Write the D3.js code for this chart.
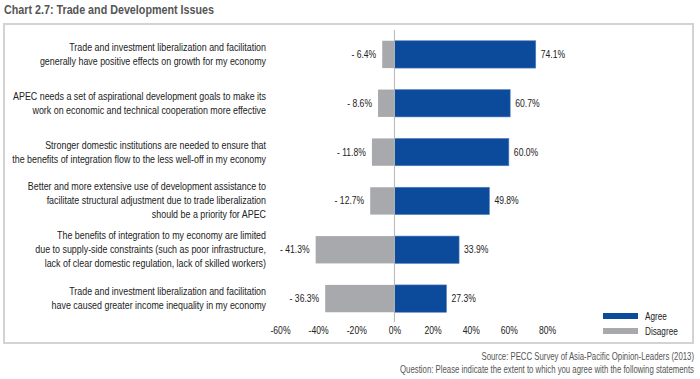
<!DOCTYPE html>
<html><head><meta charset="utf-8">
<script src="https://cdn.jsdelivr.net/npm/d3@7"></script>
<style>
body{margin:0;background:#fff;}
svg{display:block;font-family:"Liberation Sans",Arial,sans-serif;}
</style>
</head><body>
<svg id="c" width="700" height="379"></svg>
<script>
const categories = [
  ["Trade and investment liberalization and facilitation", "generally have positive effects on growth for my economy"],
  ["APEC needs a set of aspirational development goals to make its", "work on economic and technical cooperation more effective"],
  ["Stronger domestic institutions are needed to ensure that", "the benefits of integration flow to the less well-off in my economy"],
  ["Better and more extensive use of development assistance to", "facilitate structural adjustment due to trade liberalization", "should be a priority for APEC"],
  ["The benefits of integration to my economy are limited", "due to supply-side constraints (such as poor infrastructure,", "lack of clear domestic regulation, lack of skilled workers)"],
  ["Trade and investment liberalization and facilitation", "have caused greater income inequality in my economy"]
];
const agree = [74.1, 60.7, 60.0, 49.8, 33.9, 27.3];
const disagree = [-6.4, -8.6, -11.8, -12.7, -41.3, -36.3];
const tickValues = [-60, -40, -20, 0, 20, 40, 60, 80];
const seriesNames = ["Agree", "Disagree"];
const colors = {Agree: "#0c4a9c", Disagree: "#a7a9ac"};

const svg = d3.select("#c");
const idx = d3.range(categories.length);

const x = d3.scaleLinear().domain([-60, 80]).range([280, 547]);
const y = d3.scaleBand().domain(idx).range([30, 323]).paddingInner(0.44).paddingOuter(0.22);

// condensed text helper (horizontal compression to mimic a condensed face)
function ctext(parent, px, py, str, o) {
  const g = parent.append("g").attr("transform", `translate(${px},${py}) scale(${o.sx},1)`);
  return g.append("text").attr("x", 0).attr("y", 0).attr("dy", o.dy || "0.35em")
    .attr("text-anchor", o.anchor || "start")
    .attr("font-size", o.size).attr("font-weight", o.weight || "normal")
    .attr("fill", o.fill || "#222").text(str);
}

// title
ctext(svg, 4, 10, "Chart 2.7: Trade and Development Issues",
  {size: 12.5, sx: 0.86, weight: "bold", fill: "#555"});

// frame
svg.append("rect").attr("x", 4).attr("y", 24).attr("width", 689).attr("height", 319)
  .attr("fill", "none").attr("stroke", "#d3d3d3").attr("stroke-width", 2);

// category labels
const cat = svg.append("g");
idx.forEach(i => {
  const lines = categories[i];
  const cy = y(i) + y.bandwidth() / 2;
  const lh = 14;
  lines.forEach((ln, k) => {
    ctext(cat, 266, cy + (k - (lines.length - 1) / 2) * lh, ln,
      {size: 10, sx: 0.89, anchor: "end"});
  });
});

// bars
svg.append("g").selectAll("rect").data(idx).join("rect")
  .attr("x", i => x(disagree[i])).attr("y", i => y(i))
  .attr("width", i => x(0) - x(disagree[i])).attr("height", y.bandwidth())
  .attr("fill", colors.Disagree);
svg.append("g").selectAll("rect").data(idx).join("rect")
  .attr("x", x(0)).attr("y", i => y(i))
  .attr("width", i => x(agree[i]) - x(0)).attr("height", y.bandwidth())
  .attr("fill", colors.Agree).attr("stroke", "#5a80c0").attr("stroke-width", 0.6);

// zero line
svg.append("line").attr("x1", x(0)).attr("x2", x(0)).attr("y1", 30).attr("y2", 322)
  .attr("stroke", "#b5b5b5").attr("stroke-width", 1);

// value labels
const vl = svg.append("g");
idx.forEach(i => {
  const cy = y(i) + y.bandwidth() / 2;
  ctext(vl, x(agree[i]) + 5, cy, agree[i].toFixed(1) + "%", {size: 10, sx: 0.86});
  ctext(vl, x(disagree[i]) - 6, cy, "- " + Math.abs(disagree[i]).toFixed(1) + "%",
    {size: 10, sx: 0.86, anchor: "end"});
});

// axis
const axis = d3.axisBottom(x).tickValues(tickValues).tickSize(0).tickPadding(0)
  .tickFormat(d => d + "%");
const ag = svg.append("g").attr("transform", "translate(0,327)").call(axis);
ag.select(".domain").remove();
ag.attr("font-family", null).attr("font-size", null);
ag.selectAll("text").attr("font-size", 10).attr("fill", "#222")
  .attr("dy", "0.71em").attr("transform", "scale(0.86,1)");

// legend
const lg = svg.append("g");
seriesNames.forEach((s, k) => {
  const ly = 316 + k * 15;
  lg.append("rect").attr("x", 603).attr("y", ly - 3).attr("width", 35).attr("height", 6).attr("fill", colors[s]);
  ctext(lg, 645, ly, s, {size: 10, sx: 0.82});
});

// source
const src = svg.append("g");
ctext(src, 694, 356, "Source: PECC Survey of Asia-Pacific Opinion-Leaders (2013)",
  {size: 10, sx: 0.78, anchor: "end", fill: "#555"});
ctext(src, 694, 369, "Question: Please indicate the extent to which you agree with the following statements",
  {size: 10, sx: 0.78, anchor: "end", fill: "#555"});
</script>
</body></html>
